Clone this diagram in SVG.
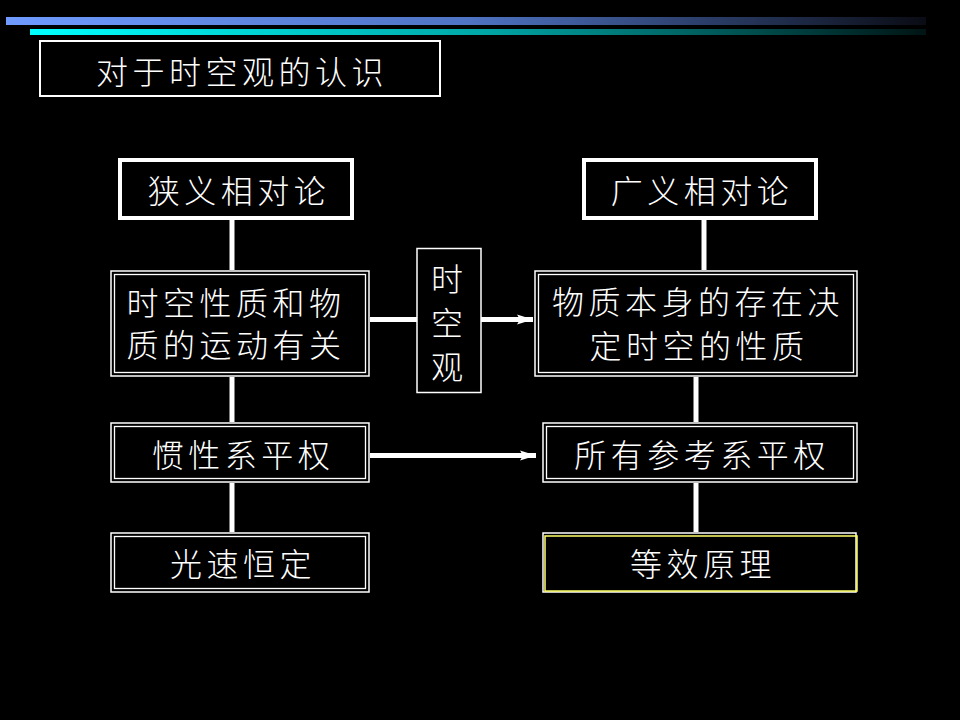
<svg xmlns="http://www.w3.org/2000/svg" width="960" height="720" viewBox="0 0 960 720">
<defs>
<linearGradient id="g1" x1="0" y1="0" x2="1" y2="0">
<stop offset="0" stop-color="#6f9bff"/>
<stop offset="0.5" stop-color="#4f74c4"/>
<stop offset="1" stop-color="#0a0c14"/>
</linearGradient>
<linearGradient id="g2" x1="0" y1="0" x2="1" y2="0">
<stop offset="0" stop-color="#00ffff"/>
<stop offset="0.5" stop-color="#00a8a8"/>
<stop offset="1" stop-color="#001414"/>
</linearGradient>
<marker id="ah" markerWidth="16" markerHeight="12" refX="16" refY="6" orient="auto" markerUnits="userSpaceOnUse">
<path d="M0,1 L16,6 L0,11 L3,6 Z" fill="#ffffff"/>
</marker>
<style>
text{font-family:"Noto Sans CJK SC","Noto Sans CJK TC",sans-serif;font-size:32px;font-weight:300;fill:#ffffff;text-anchor:middle;dominant-baseline:central;letter-spacing:4.5px}
.thick{fill:#000;stroke:#fff;stroke-width:4}
.thin{fill:#000;stroke:#fff;stroke-width:1.5}
.inner{fill:none;stroke:#fff;stroke-width:1.3}
.conn{stroke:#fff;stroke-width:5;fill:none}
</style>
</defs>
<rect x="0" y="0" width="960" height="720" fill="#000"/>
<rect x="6" y="17" width="920" height="8" fill="url(#g1)"/>
<rect x="30" y="29" width="896" height="6" fill="url(#g2)"/>

<g id="connectors">
<line class="conn" x1="232" y1="220" x2="232" y2="270"/>
<line class="conn" x1="704" y1="220" x2="704" y2="270"/>
<line class="conn" x1="232" y1="377" x2="232" y2="422"/>
<line class="conn" x1="696" y1="377" x2="696" y2="422"/>
<line class="conn" x1="232" y1="483" x2="232" y2="532"/>
<line class="conn" x1="696" y1="483" x2="696" y2="532"/>
<line class="conn" x1="370" y1="319.5" x2="417" y2="319.5"/>
<line class="conn" x1="481" y1="319.5" x2="533" y2="319.5" marker-end="url(#ah)"/>
<line class="conn" x1="370" y1="455.5" x2="536" y2="455.5" marker-end="url(#ah)"/>
</g>

<g id="title">
<rect x="40" y="41" width="400" height="55" fill="#000" stroke="#fff" stroke-width="2"/>
<text x="242" y="70">对于时空观的认识</text>
</g>

<g id="sr">
<rect class="thick" x="120" y="160" width="232" height="58"/>
<text x="239" y="189">狭义相对论</text>
</g>

<g id="gr">
<rect class="thick" x="584" y="160" width="232" height="58"/>
<text x="702" y="189">广义相对论</text>
</g>

<g id="sr1">
<rect class="thin" x="111" y="271" width="258" height="105"/>
<rect class="inner" x="114.5" y="274.5" width="251" height="98"/>
<text x="236" y="301">时空性质和物</text>
<text x="236" y="343">质的运动有关</text>
</g>

<g id="spacetime">
<rect class="thin" x="417" y="248.5" width="64" height="144"/>
<text x="447" y="277" style="letter-spacing:0">时</text>
<text x="447" y="321" style="letter-spacing:0">空</text>
<text x="447" y="365" style="letter-spacing:0">观</text>
</g>

<g id="gr1">
<rect class="thin" x="535" y="271" width="322" height="105"/>
<rect class="inner" x="538.5" y="274.5" width="315" height="98"/>
<text x="698" y="300">物质本身的存在决</text>
<text x="699" y="344">定时空的性质</text>
</g>

<g id="sr2">
<rect class="thin" x="111" y="423" width="258" height="59"/>
<rect class="inner" x="114.5" y="426.5" width="251" height="52"/>
<text x="243" y="453">惯性系平权</text>
</g>

<g id="gr2">
<rect class="thin" x="543" y="423" width="314" height="59"/>
<rect class="inner" x="546.5" y="426.5" width="307" height="52"/>
<text x="702" y="453">所有参考系平权</text>
</g>

<g id="sr3">
<rect class="thin" x="111" y="533" width="258" height="59"/>
<rect class="inner" x="114.5" y="536.5" width="251" height="52"/>
<text x="243" y="562">光速恒定</text>
</g>

<g id="gr3">
<rect class="thin" x="543" y="533" width="313" height="59"/>
<rect x="545" y="536" width="312" height="55" fill="none" stroke="#ffff66" stroke-width="1.5"/>
<text x="703" y="562">等效原理</text>
</g>
</svg>
